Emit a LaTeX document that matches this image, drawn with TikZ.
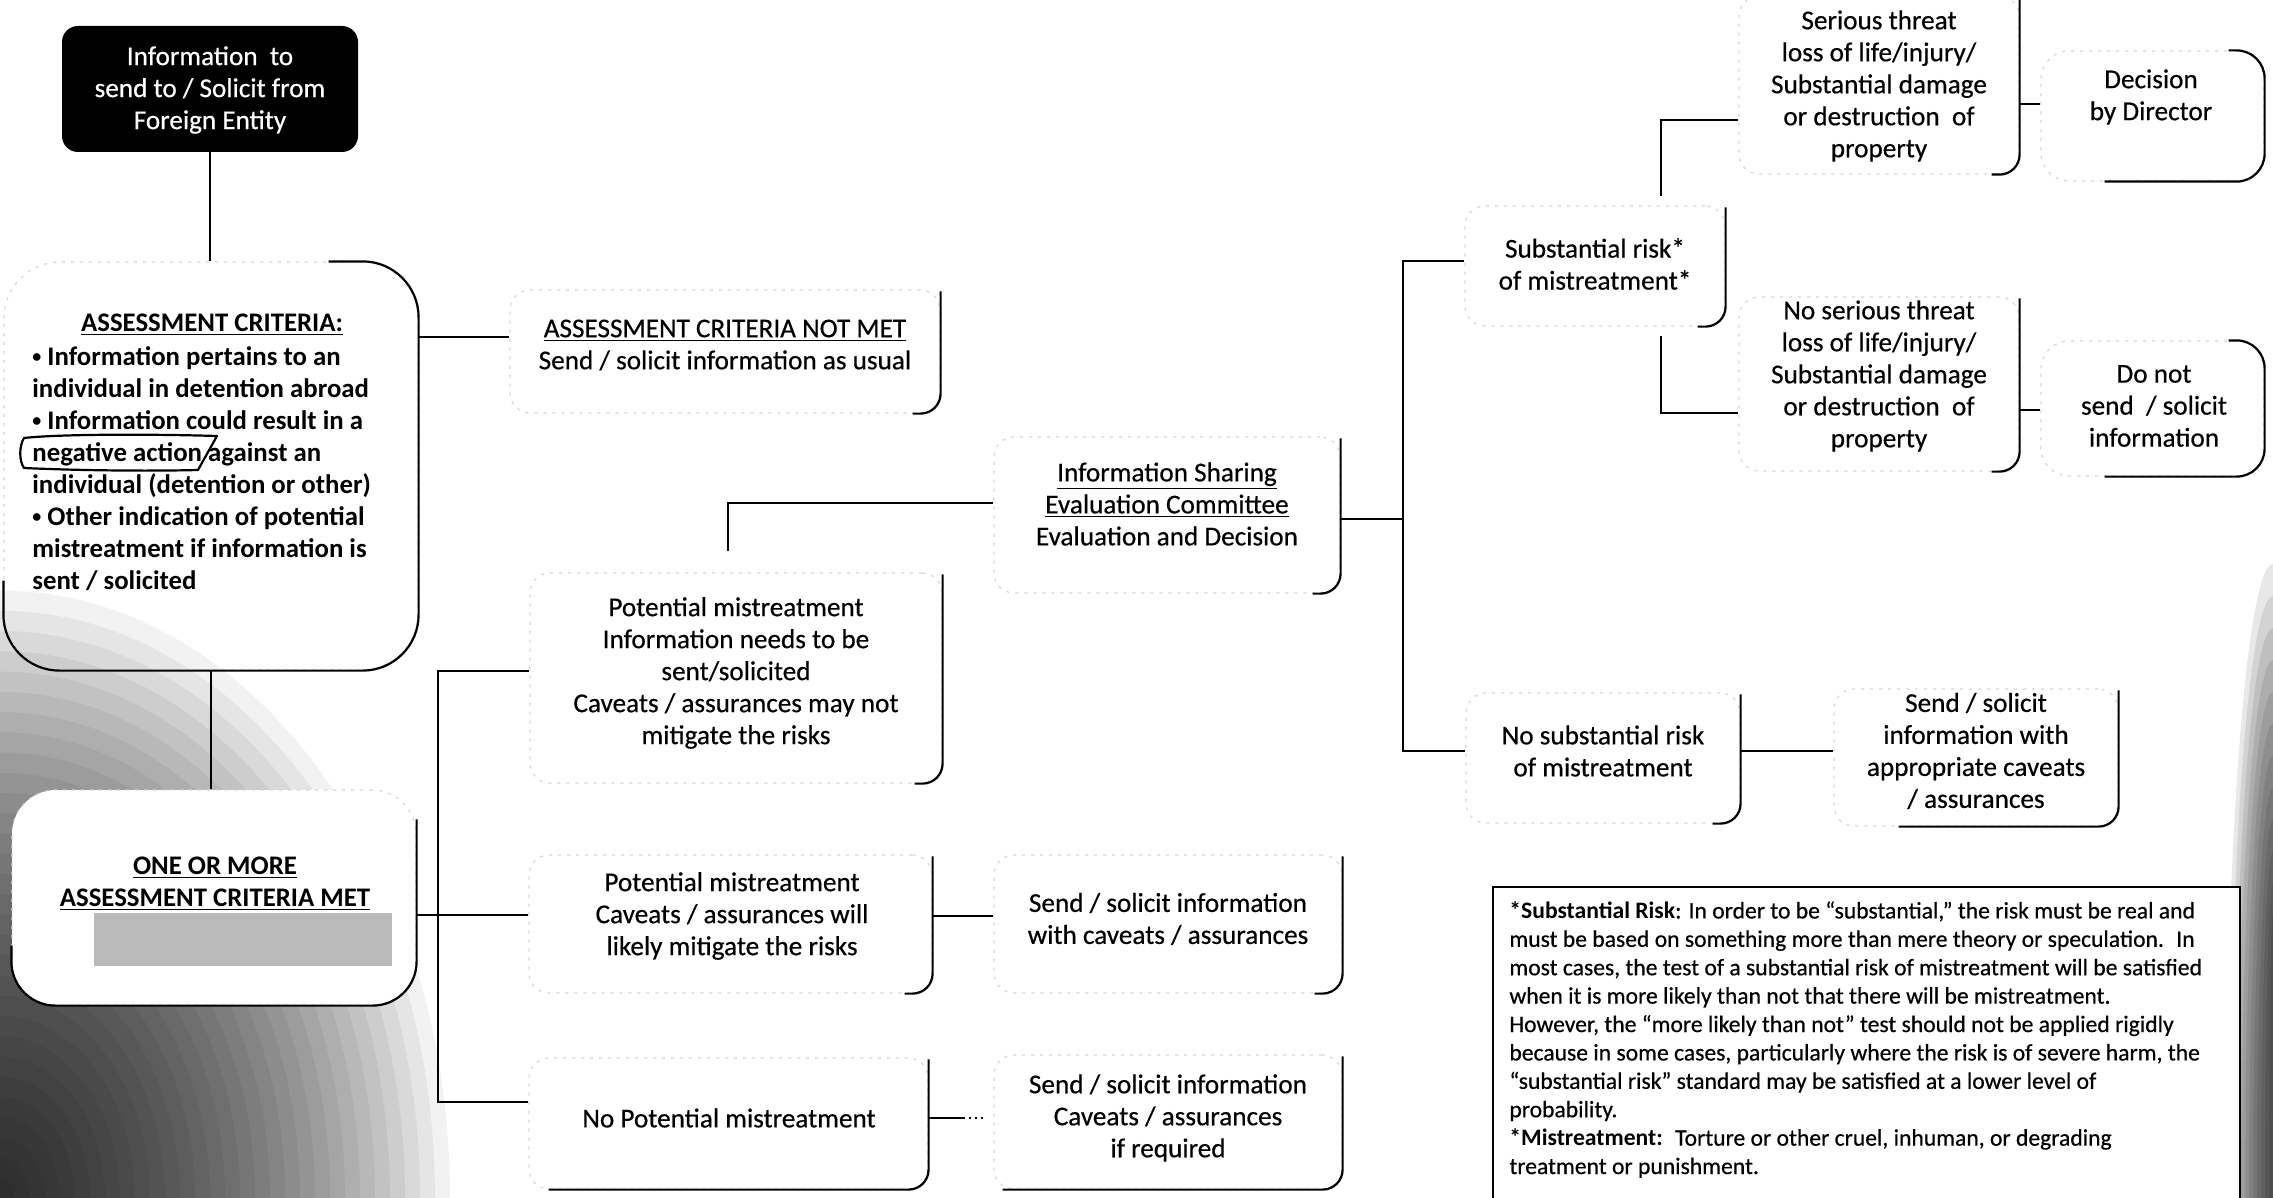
\documentclass[tikz,border=0pt]{standalone}
\usepackage{fontspec}
\setmainfont{Carlito}[UprightFeatures={FakeBold=0.5}]
\usetikzlibrary{fit}
\newcommand\fsz{\fontsize{13.6}{16}\selectfont}
\newcommand\fszb{\fontsize{13.4}{16}\selectfont\bfseries}
\newcommand\bul{{\fontsize{9}{16}\selectfont\raisebox{0.35ex}{•}}}
\tikzset{
  boxfit/.style={draw=black!16, line width=0.6pt, dash pattern=on 1.5pt off 3pt, inner sep=0pt},
  edge/.style={draw=black, line width=1.1pt},
  conn/.style={draw=black, line width=1.2pt},
  t/.style={align=center, inner sep=0pt, font=\fsz},
  tb/.style={align=center, inner sep=0pt, font=\fszb},
  ink/.style={draw=black, line width=1.1pt, line cap=round, line join=round},
  noise/.style={fill=black, fill opacity=0.05},
  noiser/.style={fill=black, fill opacity=0.09},
}
\newcommand\rbox[7]{%
  \node[boxfit, fit={(#2,#3) (#4,#5)}, rounded corners=#6] (#1) {};
  \draw[edge, rounded corners=#6] ([yshift=-1pt]#1.north east) -- (#1.south east) -- ([xshift=-#7]#1.south east);
}
\begin{document}
\begin{tikzpicture}[x=0.5pt, y=-0.5pt]
\useasboundingbox (0,0) rectangle (2273,1198);
\fill[white] (0,0) rectangle (2273,1198);
% scan noise (bottom-left and right edge)
\foreach \r in {15,30,...,450} {\fill[noise] (0,1198) ellipse ({\r} and {1.35*\r});}
\foreach \r in {4,8,...,48} {\fill[noiser] (2273,1198) ellipse ({\r} and {8*\r+250});}

% y-levels and trunks
\coordinate (y337) at (0,337);
\coordinate (y671) at (0,671);
\coordinate (y915) at (0,915);
\coordinate (y1102) at (0,1102);
\coordinate (y503) at (0,503);
\coordinate (y519) at (0,519);
\coordinate (y261) at (0,261);
\coordinate (y751) at (0,751);
\coordinate (y196) at (0,196);
\coordinate (y120) at (0,120);
\coordinate (y336) at (0,336);
\coordinate (y413) at (0,413);
\coordinate (y104) at (0,104);
\coordinate (y410) at (0,410);
\coordinate (y916) at (0,916);
\coordinate (y1118) at (0,1118);
\coordinate (tr) at (438,0);
\coordinate (tr2) at (1403,0);
\coordinate (g) at (1661,0);
\coordinate (e1) at (728,551);

% A
\node[fill=black, rounded corners=8pt, fit={(62,26) (358,152)}, inner sep=0pt] (A) {};
\node[t, text=white] (At) at (210,90) {Information~ to\\send to / Solicit from\\Foreign Entity};

% B
\node[boxfit, fit={(4,262) (418,670)}, rounded corners=28pt] (B) {};
\draw[edge, rounded corners=28pt] ([xshift=-45pt]B.north east) -- (B.north east) -- (B.south east) -- (B.south west) -- ([yshift=45pt]B.south west);
\node[tb] (Bt) at (212,325) {\underline{ASSESSMENT CRITERIA:}};
\node[tb, align=left, anchor=west] (Bb) at (32,469) {\bul\ Information pertains to an\\individual in detention abroad\\\bul\ Information could result in a\\negative action against an\\individual (detention or other)\\\bul\ Other indication of potential\\mistreatment if information is\\sent / solicited};
\draw[ink] (217,436) .. controls (150,434) and (60,434) .. (24,438) .. controls (19,446) and (19,461) .. (24,468) .. controls (90,471) and (160,471) .. (198,470) -- (217,436);

% C
\node[boxfit, fill=white, fit={(12,790) (416,1005)}, rounded corners=22pt] (C) {};
\draw[edge, rounded corners=22pt] ([yshift=-15pt]C.north east) -- (C.south east) -- (C.south west) -- ([yshift=30pt]C.south west);
\node[tb] (Ct) at (215,884) {\underline{ONE OR MORE}\\\underline{ASSESSMENT CRITERIA MET}};
\node[fill=black!27, fit={(94,913) (392,966)}, inner sep=0pt] (Cr) {};

% D
\rbox{D}{510}{290}{940}{413}{10pt}{14pt}
\node[t] (Dt) at (725,345) {\underline{ASSESSMENT CRITERIA NOT MET}\\Send / solicit information as usual};
% E
\rbox{E}{530}{573}{942}{783}{10pt}{14pt}
\node[t] (Et) at (736,673) {Potential mistreatment\\Information needs to be\\sent/solicited\\Caveats / assurances may not\\mitigate the risks};
% F
\rbox{F}{994}{437}{1340}{593}{10pt}{14pt}
\node[t] (Ft) at (1167,504) {\underline{Information Sharing}\\\underline{Evaluation Committee}\\Evaluation and Decision};
% G
\rbox{G}{1465}{206}{1725}{326}{10pt}{14pt}
\node[t] (Gt) at (1595,264) {Substantial risk*\\of mistreatment*};
% H
\rbox{H}{1739}{-4}{2019}{174}{10pt}{14pt}
\node[t] (Ht) at (1879,86) {Serious threat\\loss of life/injury/\\Substantial damage\\or destruction~ of\\property};
% I
\node[boxfit, fit={(2041,51) (2264,181)}, rounded corners=14pt] (I) {};
\draw[edge, rounded corners=14pt] ([xshift=-18pt]I.north east) -- (I.north east) -- (I.south east) -- ([xshift=-80pt]I.south east);
\node[t] (It) at (2151,97) {Decision\\by Director};
% J
\rbox{J}{1739}{297}{2019}{471}{10pt}{14pt}
\node[t] (Jt) at (1879,376) {No serious threat\\loss of life/injury/\\Substantial damage\\or destruction~ of\\property};
% K
\node[boxfit, fit={(2041,341) (2264,476)}, rounded corners=14pt] (K) {};
\draw[edge, rounded corners=14pt] ([xshift=-18pt]K.north east) -- (K.north east) -- (K.south east) -- ([xshift=-80pt]K.south east);
\node[t] (Kt) at (2154,406) {Do not\\send~ / solicit\\information};
% L
\rbox{L}{1466}{693}{1740}{823}{10pt}{14pt}
\node[t] (Lt) at (1603,751) {No substantial risk\\of mistreatment};
% M
\rbox{M}{1834}{689}{2118}{826}{10pt}{110pt}
\node[t] (Mt) at (1976,751) {Send / solicit\\information with\\appropriate caveats\\/ assurances};
% N
\rbox{N}{529}{855}{932}{993}{10pt}{14pt}
\node[t] (Nt) at (732,916) {Potential mistreatment\\Caveats / assurances will\\likely mitigate the risks};
% O
\rbox{O}{994}{855}{1342}{993}{10pt}{14pt}
\node[t] (Ot) at (1168,919) {Send / solicit information\\with caveats / assurances};
% P
\rbox{P}{529}{1058}{928}{1189}{10pt}{190pt}
\node[t] (Pt) at (729,1118) {No Potential mistreatment};
% Q
\rbox{Q}{994}{1055}{1342}{1189}{10pt}{170pt}
\node[t] (Qt) at (1168,1118) {Send / solicit information\\Caveats / assurances\\if required};

% R footnote
\node[draw=black, fill=white, line width=1.3pt, fit={(1493,887) (2240,1240)}, inner sep=0pt] (R) {};
\node[anchor=north west, align=left, inner sep=0pt, font=\fontsize{11.8}{14.2}\selectfont] (Rt) at (1509,901) {\textbf{*Substantial Risk}: In order to be “substantial,” the risk must be real and\\must be based on something more than mere theory or speculation.~ In\\most cases, the test of a substantial risk of mistreatment will be satisfied\\when it is more likely than not that there will be mistreatment.\\However, the “more likely than not” test should not be applied rigidly\\because in some cases, particularly where the risk is of severe harm, the\\“substantial risk” standard may be satisfied at a lower level of\\probability.\\\textbf{*Mistreatment:}~ Torture or other cruel, inhuman, or degrading\\treatment or punishment.};

% connectors
\draw[conn] (A.south) -- (A.south |- B.north);
\draw[conn] (B.east |- y337) -- (D.west |- y337);
\draw[conn] (B.south) -- (B.south |- C.north);
\draw[conn] (E.west |- y671) -| (tr |- y1102) -- (P.west |- y1102);
\draw[conn] (C.east |- y915) -- (N.west |- y915);
\draw[conn] (e1) |- (F.west |- y503);
\draw[conn] (F.east |- y519) -- (tr2 |- y519);
\draw[conn] (G.west |- y261) -| (tr2 |- y751) -- (L.west |- y751);
\draw[conn] (g |- y196) |- (H.west |- y120);
\draw[conn] (g |- y336) |- (J.west |- y413);
\draw[conn] (H.east |- y104) -- (I.west |- y104);
\draw[conn] (J.east |- y410) -- (K.west |- y410);
\draw[conn] (L.east |- y751) -- (M.west |- y751);
\draw[conn] (N.east |- y916) -- (O.west |- y916);
\draw[conn, dash pattern=on 18pt off 2pt on 1pt off 2pt on 1pt off 2pt on 1pt off 20pt] (P.east |- y1118) -- (Q.west |- y1118);
\end{tikzpicture}
\end{document}
